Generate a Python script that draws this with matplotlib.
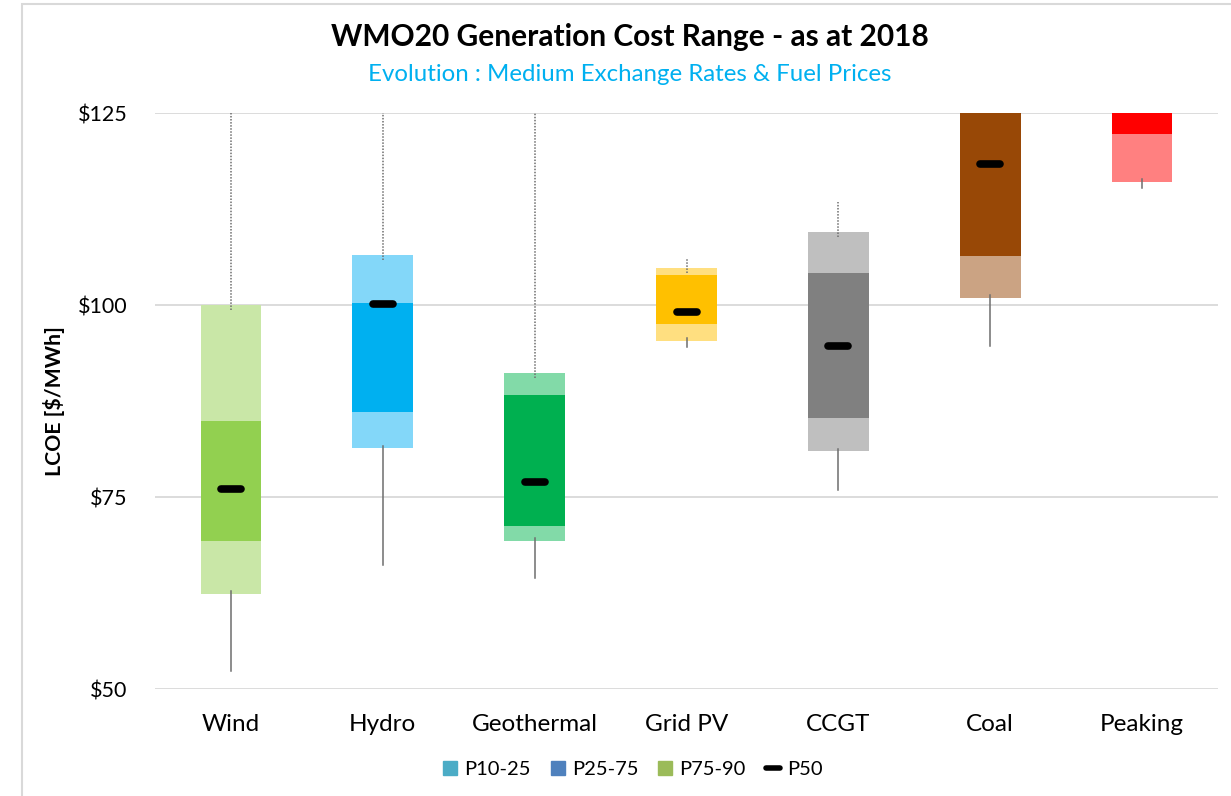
import matplotlib.pyplot as plt
from matplotlib.patches import Rectangle, Patch
from matplotlib.lines import Line2D

plt.rcParams['font.family'] = ['Lato', 'DejaVu Sans']

# data ($/MWh); values above $125 are clipped in the original
techs = ["Wind", "Hydro", "Geothermal", "Grid PV", "CCGT", "Coal", "Peaking"]
p_min = [52.4, 66.1, 64.4, 94.5, 75.9, 94.7, 115.2]
p10 = [62.4, 81.4, 69.3, 95.35, 81.0, 100.95, 116.05]
p25 = [69.3, 86.1, 71.2, 97.5, 85.3, 106.4, 122.3]
p50 = [76.1, 100.1, 76.9, 99.1, 94.7, 118.4, 130.0]
p75 = [84.9, 100.3, 88.3, 103.9, 104.2, 128.0, 140.0]
p90 = [100.0, 106.5, 91.1, 104.8, 109.5, 132.0, 150.0]
p_max = [140.0, 140.0, 140.0, 106.0, 113.4, 140.0, 160.0]

light = ["#C9E7A7", "#83D7F9", "#82DAA8", "#FFDF80", "#BFBFBF", "#CBA383", "#FF8080"]
dark = ["#92D050", "#00B0F0", "#00B050", "#FFC000", "#808080", "#984806", "#FF0000"]

yticks = [50, 75, 100, 125]

fig = plt.figure(figsize=(12.31, 7.96), dpi=100)
ax = fig.add_axes([0.126, 0.1344, 0.8634, 0.7236])

w = 0.40
for i, t in enumerate(techs):
    # light bands P10-25 and P75-90, dark band P25-75
    ax.add_patch(Rectangle((i - w / 2, p10[i]), w, p25[i] - p10[i], color=light[i], lw=0, zorder=2))
    ax.add_patch(Rectangle((i - w / 2, p75[i]), w, p90[i] - p75[i], color=light[i], lw=0, zorder=2))
    ax.add_patch(Rectangle((i - w / 2, p25[i]), w, p75[i] - p25[i], color=dark[i], lw=0, zorder=2))
    # whiskers
    ax.plot([i, i], [p_min[i], p10[i] + 0.3], color="#6E6E6E", lw=1.1, zorder=3)
    ax.plot([i, i], [p90[i] - 0.6, p_max[i]], color="#6E6E6E", lw=1.1, ls=(0, (1, 1)), zorder=3)
    # median
    ax.plot([i - 0.066, i + 0.066], [p50[i], p50[i]], color="black", lw=5.5,
            solid_capstyle="round", zorder=4)

ax.set_xlim(-0.5, len(techs) - 0.5)
ax.set_ylim(50, 125)
ax.set_yticks(yticks)
ax.set_yticklabels([f"${v}" for v in yticks], fontsize=15.5)
ax.set_xticks(range(len(techs)))
ax.set_xticklabels(techs, fontsize=17.5)
ax.tick_params(axis="y", length=0, pad=20)
ax.tick_params(axis="x", length=0, pad=18)
ax.grid(axis="y", color="#D9D9D9", lw=1.3, zorder=0)
ax.set_axisbelow(True)
for s in ax.spines.values():
    s.set_visible(False)

ax.set_ylabel("LCOE [$/MWh]", fontsize=15.3, fontweight="bold")
ax.yaxis.set_label_coords(-0.085, 0.5)

fig.text(0.512, 0.953, "WMO20 Generation Cost Range - as at 2018", ha="center", va="center",
         fontsize=21.5, fontweight="bold")
fig.text(0.5115, 0.907, "Evolution : Medium Exchange Rates & Fuel Prices", ha="center", va="center",
         fontsize=17.3, color="#00B0F0")

# outer chart border
fig.patches.append(Rectangle((22 / 1231, -0.1), 1.2, 1.1 - 4 / 796, transform=fig.transFigure,
                             fill=False, ec="#D9D9D9", lw=1.5))

handles = [Patch(color="#4BACC6", label="P10-25"),
           Patch(color="#4F81BD", label="P25-75"),
           Patch(color="#9BBB59", label="P75-90"),
           Line2D([0], [0], color="black", lw=4, solid_capstyle="round", label="P50")]
fig.legend(handles=handles, loc="center", bbox_to_anchor=(0.514, 0.033), ncol=4, frameon=False,
           fontsize=14.5, handlelength=0.7, handleheight=0.7, handletextpad=0.35, columnspacing=1.0)

fig.savefig("out.png", dpi=100)
